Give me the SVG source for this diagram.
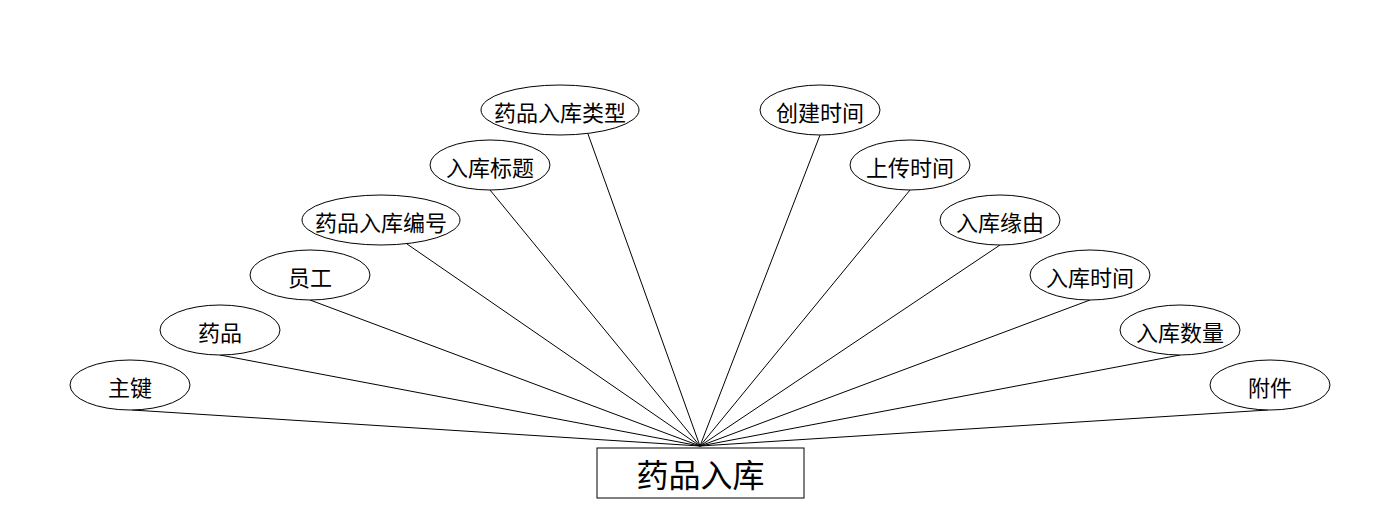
<svg xmlns="http://www.w3.org/2000/svg" width="1400" height="528" viewBox="0 0 1400 528">
<style>
.n ellipse{fill:#fff;stroke:#000;stroke-width:1}
.n text{font-family:"Noto Sans CJK SC","Microsoft YaHei",sans-serif;font-size:22px;text-anchor:middle;dominant-baseline:central;fill:#000}
#connectors line{stroke:#000;stroke-width:1}
#entity rect{fill:#fff;stroke:#000;stroke-width:1}
#entity text{font-family:"Noto Sans CJK SC","Microsoft YaHei",sans-serif;font-size:32px;text-anchor:middle;dominant-baseline:central;fill:#000}
</style>
<rect width="1400" height="528" fill="#fff"/>
<g id="connectors">
<line x1="132" y1="410" x2="700" y2="446"/>
<line x1="220" y1="355" x2="700" y2="446"/>
<line x1="310" y1="300" x2="700" y2="446"/>
<line x1="407" y1="244" x2="700" y2="446"/>
<line x1="490" y1="190" x2="700" y2="446"/>
<line x1="588" y1="134" x2="700" y2="446"/>
<line x1="820" y1="135" x2="700" y2="446"/>
<line x1="910" y1="190" x2="700" y2="446"/>
<line x1="1000" y1="245" x2="700" y2="446"/>
<line x1="1090" y1="300" x2="700" y2="446"/>
<line x1="1180" y1="355" x2="700" y2="446"/>
<line x1="1268" y1="410" x2="700" y2="446"/>
</g>
<g id="a1" class="n"><ellipse cx="130" cy="385" rx="60" ry="25"/><text x="130" y="386">主键</text></g>
<g id="a2" class="n"><ellipse cx="220" cy="330" rx="60" ry="25"/><text x="220" y="331">药品</text></g>
<g id="a3" class="n"><ellipse cx="310" cy="275" rx="60" ry="25"/><text x="310" y="276">员工</text></g>
<g id="a4" class="n"><ellipse cx="381" cy="220" rx="79" ry="25"/><text x="381" y="221">药品入库编号</text></g>
<g id="a5" class="n"><ellipse cx="490" cy="165" rx="60" ry="25"/><text x="490" y="166">入库标题</text></g>
<g id="a6" class="n"><ellipse cx="560" cy="110" rx="79" ry="25"/><text x="560" y="111">药品入库类型</text></g>
<g id="a7" class="n"><ellipse cx="820" cy="110" rx="60" ry="25"/><text x="820" y="111">创建时间</text></g>
<g id="a8" class="n"><ellipse cx="910" cy="165" rx="60" ry="25"/><text x="910" y="166">上传时间</text></g>
<g id="a9" class="n"><ellipse cx="1000" cy="220" rx="60" ry="25"/><text x="1000" y="221">入库缘由</text></g>
<g id="a10" class="n"><ellipse cx="1090" cy="275" rx="60" ry="25"/><text x="1090" y="276">入库时间</text></g>
<g id="a11" class="n"><ellipse cx="1180" cy="330" rx="60" ry="25"/><text x="1180" y="331">入库数量</text></g>
<g id="a12" class="n"><ellipse cx="1270" cy="385" rx="60" ry="25"/><text x="1270" y="386">附件</text></g>
<g id="entity"><rect x="597" y="448" width="207" height="50"/><text x="700.5" y="473">药品入库</text></g>
</svg>
